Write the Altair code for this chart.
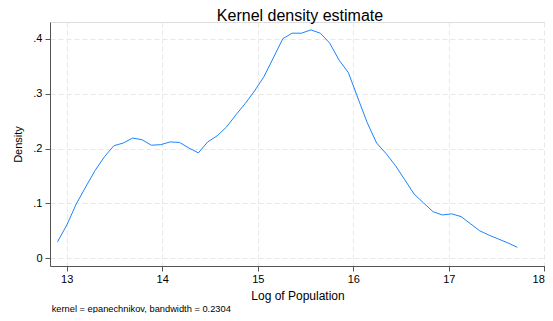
import altair as alt
import pandas as pd

# Kernel density estimate points
log_pop = [12.904, 13.002, 13.100, 13.199, 13.297, 13.395, 13.493, 13.592, 13.690, 13.788,
           13.886, 13.985, 14.083, 14.181, 14.279, 14.378, 14.476, 14.574, 14.672, 14.770,
           14.869, 14.967, 15.065, 15.163, 15.262, 15.360, 15.458, 15.556, 15.655, 15.753,
           15.851, 15.949, 16.048, 16.146, 16.244, 16.342, 16.441, 16.539, 16.637, 16.735,
           16.834, 16.932, 17.030, 17.128, 17.227, 17.325, 17.423, 17.521, 17.620, 17.718]
density = [0.030, 0.061, 0.099, 0.130, 0.160, 0.185, 0.205, 0.210, 0.219, 0.216,
           0.206, 0.207, 0.212, 0.211, 0.201, 0.192, 0.212, 0.223, 0.239, 0.261,
           0.282, 0.305, 0.331, 0.365, 0.400, 0.410, 0.410, 0.416, 0.410, 0.392,
           0.361, 0.338, 0.292, 0.247, 0.210, 0.191, 0.169, 0.143, 0.117, 0.101,
           0.085, 0.079, 0.081, 0.076, 0.063, 0.050, 0.042, 0.035, 0.028, 0.020]

x_ticks = [13, 14, 15, 16, 17, 18]
y_ticks = [0, 0.1, 0.2, 0.3, 0.4]
title_text = ["Kernel density estimate"]
x_title = "Log of Population"
y_title = "Density"
note_text = ["kernel = epanechnikov, bandwidth = 0.2304"]

FONT = "Liberation Sans"
LINE = "#1a85ff"
AXIS = "#555555"
GRID = "#e8e8e8"

df = pd.DataFrame({"x": log_pop, "y": density})
note_df = pd.DataFrame({"t": note_text})
title_df = pd.DataFrame({"t": title_text})

line = alt.Chart(df).mark_line(color=LINE, strokeWidth=1).encode(
    x=alt.X("x:Q",
            scale=alt.Scale(domain=[12.825, 18.007], nice=False, zero=False),
            axis=alt.Axis(values=x_ticks, title=x_title, format="d",
                          grid=True, gridDash=[5, 3], gridColor=GRID,
                          domainColor=AXIS, tickColor=AXIS, tickSize=5,
                          labelFont=FONT, labelFontSize=11, labelColor="#000",
                          labelBaseline="alphabetic", labelPadding=11.3,
                          titleFont=FONT, titleFontSize=12, titleFontWeight="normal",
                          titleColor="#000", titleBaseline="alphabetic", titleY=33.3)),
    y=alt.Y("y:Q",
            scale=alt.Scale(domain=[-0.0140, 0.4304], nice=False, zero=False),
            axis=alt.Axis(values=y_ticks, title=y_title,
                          labelExpr="datum.value == 0 ? '0' : replace(format(datum.value, '.1f'), '0.', '.')",
                          grid=True, gridDash=[5, 3], gridColor=GRID,
                          domainColor=AXIS, tickColor=AXIS, tickSize=5,
                          labelFont=FONT, labelFontSize=11, labelColor="#000",
                          labelPadding=3,
                          titleFont=FONT, titleFontSize=11, titleFontWeight="normal",
                          titleColor="#000", titleBaseline="alphabetic", titleX=-29)),
)

note = alt.Chart(note_df).mark_text(
    align="left", baseline="alphabetic", font=FONT, fontSize=9.3, color="#000"
).encode(text="t:N", x=alt.value(1.7), y=alt.value(289.7))

title = alt.Chart(title_df).mark_text(
    align="center", baseline="alphabetic", font=FONT, fontSize=16, color="#000"
).encode(text="t:N", x=alt.value(250), y=alt.value(-1.3))

chart = alt.layer(line, note, title).properties(
    width=495, height=244,
    padding={"left": 42, "top": 14, "right": 0, "bottom": 47},
    autosize=alt.AutoSizeParams(type="none"),
).configure_view(stroke=None).configure(background="white")

chart.save("out.html", embed_options={"renderer": "svg", "actions": False})
